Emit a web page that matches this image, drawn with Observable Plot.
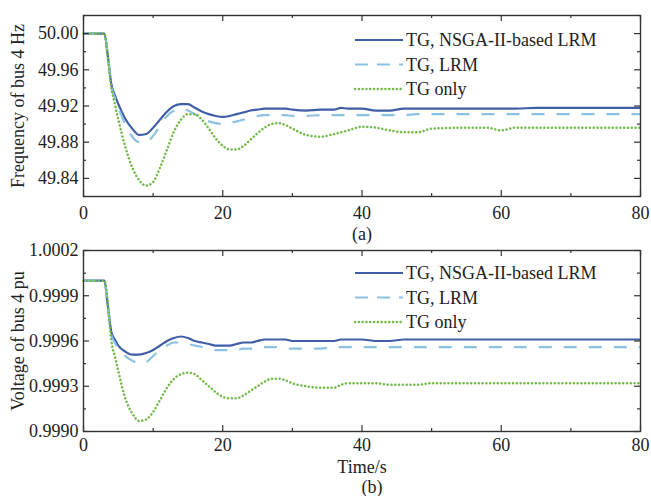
<!DOCTYPE html>
<html>
<head>
<meta charset="utf-8">
<script src="https://cdn.jsdelivr.net/npm/d3@7"></script>
<script src="https://cdn.jsdelivr.net/npm/@observablehq/plot@0.6"></script>
<style>
  html, body { margin: 0; padding: 0; background: #fff; }
  #chart svg { display: block; }
</style>
</head>
<body>
<div id="chart"></div>
<script>
// ---------- data ----------
const time = [0, 3, 3.5, 4, 4.5, 5, 6, 7, 8, 9, 10, 11, 12, 13, 14, 15, 16, 17, 18, 19, 20, 21, 22, 23, 24, 25, 26, 27, 28, 29, 30, 32, 34, 36, 37, 38, 40, 42, 44, 46, 48, 50, 55, 58, 60, 62, 65, 70, 75, 80];

const seriesNames = ["TG, NSGA-II-based LRM", "TG, LRM", "TG only"];

const freqNSGA = [50.000, 50.000, 49.975, 49.944, 49.932, 49.922,
  49.906, 49.895, 49.888, 49.889, 49.896, 49.905, 49.914, 49.920, 49.922, 49.922, 49.918, 49.914, 49.911, 49.909, 49.908, 49.909, 49.911, 49.913, 49.915, 49.916, 49.917, 49.917, 49.917, 49.917, 49.916,
  49.915, 49.916, 49.916, 49.918, 49.917,
  49.917, 49.915, 49.915, 49.917, 49.917, 49.917,
  49.917, 49.917, 49.917, 49.917, 49.918, 49.918, 49.918, 49.918];
const freqLRM = [50.000, 50.000, 49.975, 49.942, 49.929, 49.918,
  49.900, 49.886, 49.880, 49.880, 49.887, 49.898, 49.909, 49.915, 49.917, 49.915, 49.911, 49.906, 49.903, 49.901, 49.900, 49.901, 49.903, 49.905, 49.907, 49.909, 49.910, 49.910, 49.910, 49.910, 49.909,
  49.909, 49.910, 49.910, 49.910, 49.910,
  49.910, 49.910, 49.910, 49.910, 49.911, 49.911,
  49.911, 49.911, 49.911, 49.911, 49.911, 49.911, 49.911, 49.911];
const freqTG = [50.000, 50.000, 49.972, 49.940, 49.922, 49.905,
  49.875, 49.852, 49.838, 49.832, 49.836, 49.852, 49.872, 49.892, 49.905, 49.911, 49.911, 49.905, 49.895, 49.884, 49.876, 49.872, 49.872, 49.876, 49.883, 49.890, 49.896, 49.900, 49.901, 49.899, 49.895,
  49.888, 49.886, 49.889, 49.891, 49.893,
  49.897, 49.896, 49.893, 49.891, 49.891, 49.895,
  49.896, 49.896, 49.893, 49.896, 49.896, 49.896, 49.896, 49.896];

const voltNSGA = [1.00000, 1.00000, 0.99983, 0.99966, 0.99961, 0.99957,
  0.99953, 0.99951, 0.99951, 0.99952, 0.99954, 0.99957, 0.99960, 0.99962, 0.99963, 0.99962, 0.99960, 0.99959, 0.99958, 0.99957, 0.99957, 0.99957, 0.99958, 0.99959, 0.99959, 0.99960, 0.99961, 0.99961, 0.99961, 0.99961, 0.99960,
  0.99960, 0.99960, 0.99960, 0.99961, 0.99961,
  0.99961, 0.99960, 0.99960, 0.99961, 0.99961, 0.99961,
  0.99961, 0.99961, 0.99961, 0.99961, 0.99961, 0.99961, 0.99961, 0.99961];
const voltLRM = [1.00000, 1.00000, 0.99982, 0.99964, 0.99959, 0.99955,
  0.99950, 0.99947, 0.99945, 0.99946, 0.99950, 0.99954, 0.99957, 0.99959, 0.99959, 0.99958, 0.99957, 0.99956, 0.99955, 0.99954, 0.99954, 0.99954, 0.99954, 0.99955, 0.99955, 0.99956, 0.99956, 0.99956, 0.99956, 0.99955, 0.99955,
  0.99955, 0.99955, 0.99956, 0.99956, 0.99956,
  0.99956, 0.99956, 0.99956, 0.99956, 0.99956, 0.99956,
  0.99956, 0.99956, 0.99956, 0.99956, 0.99956, 0.99956, 0.99956, 0.99956];
const voltTG = [1.00000, 1.00000, 0.99985, 0.99960, 0.99950, 0.99940,
  0.99922, 0.99912, 0.99907, 0.99908, 0.99913, 0.99921, 0.99929, 0.99935, 0.99938, 0.99939, 0.99938, 0.99934, 0.99930, 0.99926, 0.99923, 0.99922, 0.99922, 0.99924, 0.99927, 0.99930, 0.99933, 0.99935, 0.99935, 0.99934, 0.99932,
  0.99930, 0.99929, 0.99929, 0.99931, 0.99932,
  0.99932, 0.99932, 0.99931, 0.99931, 0.99931, 0.99932,
  0.99932, 0.99932, 0.99932, 0.99932, 0.99932, 0.99932, 0.99932, 0.99932];

const xMajorTicks = [0, 20, 40, 60, 80];
const xMinorTicks = [10, 30, 50, 70];
const freqMajorTicks = [49.84, 49.88, 49.92, 49.96, 50.00];
const freqMinorTicks = [49.82, 49.86, 49.90, 49.94, 49.98, 50.02];
const voltMajorTicks = [0.9990, 0.9993, 0.9996, 0.9999, 1.0002];
const voltMinorTicks = [0.99915, 0.99945, 0.99975, 1.00005];

// ---------- styles ----------
const FONT = "'Liberation Serif', 'DejaVu Serif', serif";
const INK = "#222";
const lineStyles = [
  {stroke: "#3f5ea6", strokeWidth: 2.2, strokeDasharray: null, cap: "butt"},
  {stroke: "#8cc1e3", strokeWidth: 2.2, strokeDasharray: "13,12", cap: "butt"},
  {stroke: "#72bb4a", strokeWidth: 2.5, strokeDasharray: "0.1,3.7", cap: "round"}
];

const W = 651, ML = 83, MR = 11;

function panel({values, yDomain, yMajor, yMinor, yFormat, height, mt, mb, xPad, yTitle, captions, legendY0}) {
  const H = height - mt - mb;
  const FW = W - ML - MR;
  const frameStroke = {stroke: "#333", strokeWidth: 1.4};
  const marks = [];
  values.forEach((vals, i) => {
    const rows = time.map((t, k) => ({t, v: vals[k]}));
    const st = lineStyles[i];
    marks.push(Plot.line(rows, {x: "t", y: "v", stroke: st.stroke, strokeWidth: st.strokeWidth,
      strokeDasharray: st.strokeDasharray, curve: "monotone-x", strokeLinecap: st.cap}));
  });
  // inward ticks on all four sides
  marks.push(
    Plot.tickX(xMajorTicks, {x: d => d, insetTop: H - 6, ...frameStroke, strokeWidth: 1.2}),
    Plot.tickX(xMajorTicks, {x: d => d, insetBottom: H - 6, ...frameStroke, strokeWidth: 1.2}),
    Plot.tickX(xMinorTicks, {x: d => d, insetTop: H - 3, ...frameStroke, strokeWidth: 1.2}),
    Plot.tickX(xMinorTicks, {x: d => d, insetBottom: H - 3, ...frameStroke, strokeWidth: 1.2}),
    Plot.tickY(yMajor, {y: d => d, insetRight: FW - 6, ...frameStroke, strokeWidth: 1.2}),
    Plot.tickY(yMajor, {y: d => d, insetLeft: FW - 6, ...frameStroke, strokeWidth: 1.2}),
    Plot.tickY(yMinor, {y: d => d, insetRight: FW - 3, ...frameStroke, strokeWidth: 1.2}),
    Plot.tickY(yMinor, {y: d => d, insetLeft: FW - 3, ...frameStroke, strokeWidth: 1.2}),
    Plot.frame(frameStroke),
    Plot.axisX({ticks: xMajorTicks, tickSize: 0, tickPadding: xPad, tickFormat: d3.format("d"), label: null, fill: INK}),
    Plot.axisY({ticks: yMajor, tickSize: 0, tickPadding: 5, tickFormat: d3.format(yFormat), label: null, fill: INK}),
    Plot.text([yTitle], {text: d => d, frameAnchor: "left", rotate: -90, dx: -65, textAnchor: "middle", lineAnchor: "middle", fill: INK, fontSize: 18})
  );
  captions.forEach(c => {
    marks.push(Plot.text([c.text], {text: d => d, frameAnchor: "bottom", dy: c.dy, dx: c.dx || 0, textAnchor: "middle", lineAnchor: "middle", fill: INK, fontSize: 18}));
  });
  const svg = Plot.plot({
    width: W, height,
    marginLeft: ML, marginRight: MR, marginTop: mt, marginBottom: mb,
    x: {domain: [0, 80]},
    y: {domain: yDomain},
    style: {fontFamily: FONT, fontSize: "18px", color: INK, background: "#fff", overflow: "visible"},
    marks
  });
  // legend inside the plot area (upper right)
  const g = d3.select(svg).append("g").attr("font-family", FONT).attr("font-size", 18).attr("fill", INK).attr("text-anchor", "start");
  seriesNames.forEach((name, i) => {
    const y = legendY0 + i * 24.5;
    const st = lineStyles[i];
    g.append("line").attr("x1", 355).attr("x2", 403).attr("y1", y).attr("y2", y)
      .attr("stroke", st.stroke).attr("stroke-width", st.strokeWidth)
      .attr("stroke-dasharray", i === 1 ? "13,9" : st.strokeDasharray)
      .attr("stroke-linecap", st.cap);
    g.append("text").attr("x", 406).attr("y", y).attr("dy", "0.35em").attr("text-anchor", "start").text(name);
  });
  return svg;
}

const freqPanel = panel({
  values: [freqNSGA, freqLRM, freqTG],
  yDomain: [49.82, 50.02], yMajor: freqMajorTicks, yMinor: freqMinorTicks, yFormat: ".2f",
  height: 245, mt: 15, mb: 49, xPad: 10,
  yTitle: "Frequency of bus 4 Hz",
  captions: [{text: "(a)", dy: 38}],
  legendY0: 40
});
const voltPanel = panel({
  values: [voltNSGA, voltLRM, voltTG],
  yDomain: [0.9990, 1.0002], yMajor: voltMajorTicks, yMinor: voltMinorTicks, yFormat: ".4f",
  height: 251, mt: 5, mb: 65, xPad: 7,
  yTitle: "Voltage of bus 4 pu",
  captions: [{text: "Time/s", dy: 36}, {text: "(b)", dy: 56, dx: 10}],
  legendY0: 28
});
document.getElementById("chart").append(freqPanel, voltPanel);
</script>
</body>
</html>
